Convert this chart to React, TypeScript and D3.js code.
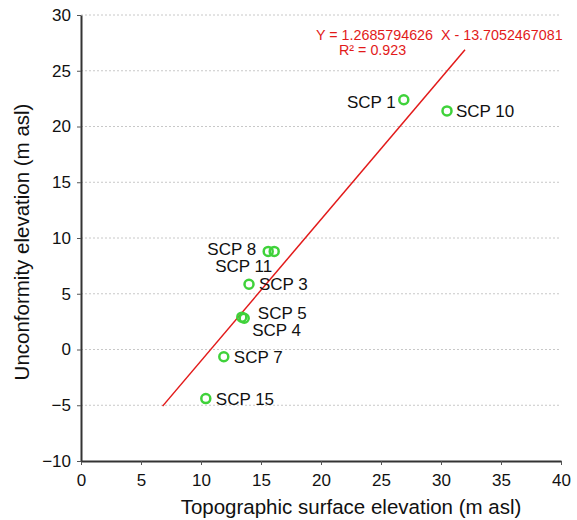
import { useEffect, useRef } from 'react';
import * as d3 from 'd3';

// data
const names = ['SCP 1', 'SCP 10', 'SCP 8', 'SCP 11', 'SCP 3', 'SCP 5', 'SCP 4', 'SCP 7', 'SCP 15'];
const surface = [26.9, 30.5, 15.6, 16.1, 14.0, 13.4, 13.6, 11.9, 10.4];
const unconformity = [22.4, 21.4, 8.8, 8.8, 5.85, 2.9, 2.8, -0.65, -4.4];
const xTicks = [0, 5, 10, 15, 20, 25, 30, 35, 40];
const yTicks = [-10, -5, 0, 5, 10, 15, 20, 25, 30];
const slope = 1.2685794626;
const intercept = -13.7052467081;
const fitRange = [6.8, 32];

// label placement: [dx, dy] from point centre, anchor
const labelPos: [number, number, string][] = [
  [-8, 2, 'end'], [9, 0, 'start'], [-12, -2, 'end'], [-2, 15, 'end'],
  [10, 0, 'start'], [16, -4, 'start'], [8, 12, 'start'], [10, 0, 'start'], [10, 0, 'start'],
];

const W = 577, H = 520;
const m = { left: 81, right: 16, top: 15, bottom: 59 };

const App = () => {
  const ref = useRef<SVGSVGElement>(null);

  useEffect(() => {
    const svg = d3.select(ref.current);
    svg.selectAll('*').remove();
    const font = 'Liberation Sans, Arial, sans-serif';

    const x = d3.scaleLinear().domain([0, 40]).range([m.left, W - m.right]);
    const y = d3.scaleLinear().domain([-10, 30]).range([H - m.bottom, m.top]);

    // grid
    svg.append('g').selectAll('line')
      .data(yTicks.filter(t => t > -10))
      .enter().append('line')
      .attr('x1', x(0)).attr('x2', x(40))
      .attr('y1', d => y(d)).attr('y2', d => y(d))
      .attr('stroke', '#c8c8c8').attr('stroke-dasharray', '2,2').attr('stroke-width', 1);

    const xAxis = svg.append('g')
      .attr('transform', `translate(0,${y(-10)})`)
      .call(d3.axisBottom(x).tickValues(xTicks).tickSize(4).tickPadding(3).tickSizeOuter(0));
    const yAxis = svg.append('g')
      .attr('transform', `translate(${x(0)},0)`)
      .call(d3.axisLeft(y).tickValues(yTicks).tickSize(4).tickPadding(6).tickSizeOuter(0));
    [xAxis, yAxis].forEach(a => {
      a.select('.domain').attr('stroke', '#333').attr('stroke-width', 2);
      a.selectAll('.tick line').attr('stroke', '#555');
      a.selectAll('.tick text').attr('font-family', font).attr('font-size', 17).attr('fill', '#111');
    });
    xAxis.selectAll('.tick text').attr('dy', '1.05em');

    // fit line
    svg.append('line')
      .attr('x1', x(fitRange[0])).attr('y1', y(slope * fitRange[0] + intercept))
      .attr('x2', x(fitRange[1])).attr('y2', y(slope * fitRange[1] + intercept))
      .attr('stroke', '#e21a1a').attr('stroke-width', 1.5);

    svg.append('text')
      .attr('x', 316).attr('y', 40)
      .attr('font-family', font).attr('font-size', 14.3).attr('fill', '#e21a1a')
      .attr('xml:space', 'preserve')
      .text(`Y = ${slope}  X - ${Math.abs(intercept)}`);
    svg.append('text')
      .attr('x', 339).attr('y', 55)
      .attr('font-family', font).attr('font-size', 14.3).attr('fill', '#e21a1a')
      .text('R² = 0.923');

    const pts = names.map((n, i) => ({ n, sx: surface[i], uy: unconformity[i], p: labelPos[i] }));

    svg.append('g').selectAll('circle')
      .data(pts).enter().append('circle')
      .attr('cx', d => x(d.sx)).attr('cy', d => y(d.uy)).attr('r', 4.5)
      .attr('fill', 'none').attr('stroke', '#3fd23a').attr('stroke-width', 2.5);

    svg.append('g').selectAll('text')
      .data(pts).enter().append('text')
      .attr('x', d => x(d.sx) + d.p[0]).attr('y', d => y(d.uy) + d.p[1])
      .attr('dy', '0.35em').attr('text-anchor', d => d.p[2])
      .attr('font-family', font).attr('font-size', 17).attr('fill', '#111')
      .text(d => d.n);

    svg.append('text')
      .attr('x', 351).attr('y', 514)
      .attr('text-anchor', 'middle')
      .attr('font-family', font).attr('font-size', 20.5).attr('fill', '#111')
      .text('Topographic surface elevation (m asl)');
    svg.append('text')
      .attr('transform', `translate(29,242) rotate(-90)`)
      .attr('text-anchor', 'middle')
      .attr('font-family', font).attr('font-size', 20.5).attr('fill', '#111')
      .text('Unconformity elevation (m asl)');
  }, []);

  return <svg ref={ref} width={W} height={H} style={{ position: 'absolute', left: 0, top: 0, background: '#fff' }} />;
};

export default App;
